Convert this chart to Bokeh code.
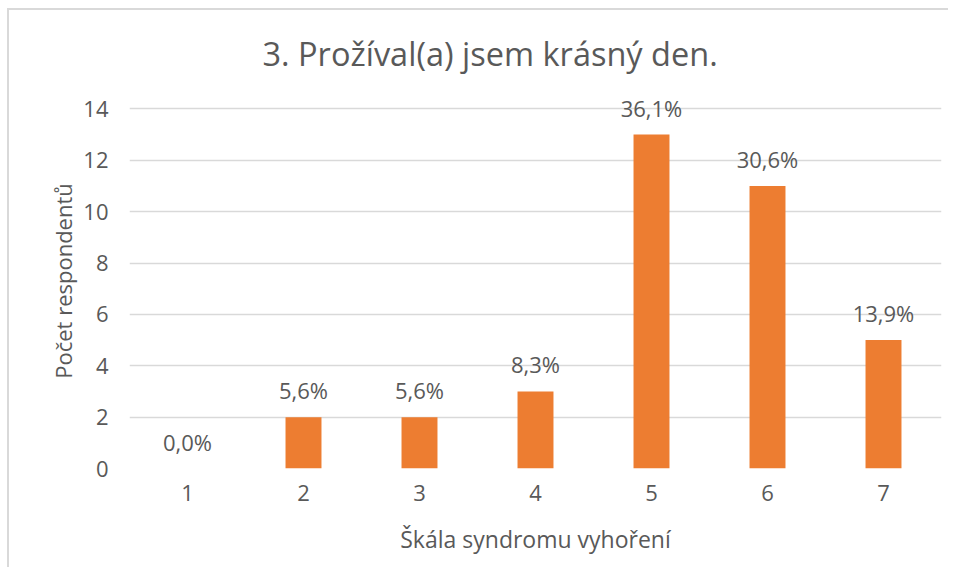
from bokeh.plotting import figure
from bokeh.models import Range1d, FixedTicker, ColumnDataSource, LabelSet
from bokeh.core.properties import value
from bokeh.embed import file_html
from bokeh.resources import INLINE

# data
categories = ["1", "2", "3", "4", "5", "6", "7"]
counts = [0, 2, 2, 3, 13, 11, 5]
pct_labels = ["0,0%", "5,6%", "5,6%", "8,3%", "36,1%", "30,6%", "13,9%"]
y_ticks = [0, 2, 4, 6, 8, 10, 12, 14]

title_text = "3. Prožíval(a) jsem krásný den."
x_label = "Škála syndromu vyhoření"
y_label = "Počet respondentů"

FONT = "Open Sans"
TXT = "#595959"
GRID = "#d9d9d9"
BAR = "#ED7D31"

src = ColumnDataSource(dict(x=categories, y=counts, lab=pct_labels))

p = figure(
    x_range=categories,
    y_range=Range1d(0, 14.6),
    width=941, height=559,
    output_backend="svg",
    toolbar_location=None,
    min_border_left=120, min_border_right=9,
    min_border_top=83, min_border_bottom=101,
)
p.x_range.range_padding = 0
p.styles = {"margin-left": "7px", "margin-top": "8px",
            "border-left": "2px solid #d9d9d9", "border-top": "2px solid #d9d9d9"}

p.vbar(x="x", top="y", width=0.31, source=src, fill_color=BAR, line_color=None)
labels = LabelSet(x="x", y="y", text="lab", source=src, text_align="center",
                  text_baseline="alphabetic", y_offset=18,
                  text_font=value(FONT), text_font_size=value("22px"), text_color=TXT)
p.add_layout(labels)

p.title.text = title_text
p.title.align = "left"
p.title.offset = 133
p.title.standoff = 35
p.title.text_font = FONT
p.title.text_font_size = "32.5px"
p.title.text_font_style = "normal"
p.title.text_color = TXT

p.outline_line_color = None
p.xgrid.grid_line_color = None
p.ygrid.grid_line_color = GRID
p.ygrid.grid_line_width = 1.5
p.yaxis.ticker = FixedTicker(ticks=y_ticks)

for ax in (p.xaxis, p.yaxis):
    ax.axis_line_color = None
    ax.major_tick_line_color = None
    ax.minor_tick_line_color = None
    ax.major_label_text_font = FONT
    ax.major_label_text_font_size = "22px"
    ax.major_label_text_color = TXT
    ax.axis_label_text_font = FONT
    ax.axis_label_text_font_size = "23px"
    ax.axis_label_text_font_style = "normal"
    ax.axis_label_text_color = TXT

p.yaxis.axis_label_text_font_size = "22px"
p.xaxis.axis_label = x_label
p.yaxis.axis_label = y_label
p.xaxis.major_label_standoff = 10
p.yaxis.major_label_standoff = 15
p.xaxis.axis_label_standoff = 19
p.yaxis.axis_label_standoff = 2

open("out.html", "w").write(file_html(p, INLINE))
